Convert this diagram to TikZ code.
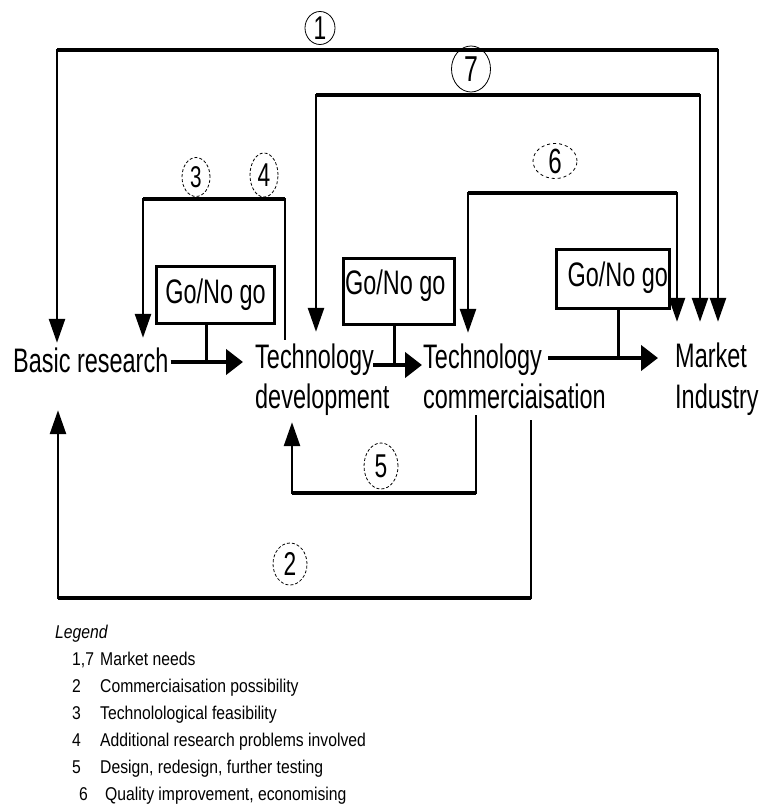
\documentclass[tikz,border=0pt]{standalone}
\usepackage{fontspec}
\setmainfont{Liberation Sans}[FakeStretch=0.69]
\newfontfamily\legfont{Liberation Sans}[FakeStretch=0.85]
\usetikzlibrary{shapes.geometric,arrows.meta,calc}
\begin{document}
\begin{tikzpicture}[x=1pt,y=-1pt,
  lbl/.style={inner sep=0pt, font=\fontsize{34}{40}\selectfont, text height=25pt, text depth=5pt, anchor=base west},
  gobox/.style={draw, line width=3pt, inner sep=0pt, font=\fontsize{34}{40}\selectfont, anchor=north west},
  num/.style={ellipse, draw, line width=0.8pt, inner sep=0pt, font=\fontsize{33}{33}\selectfont},
  stem/.style={line width=3pt},
  loopline/.style={line width=2.6pt},
  looparr/.style={line width=2.6pt, -{Triangle[length=24pt,width=16pt]}},
  loopboth/.style={line width=2.6pt, {Triangle[length=24pt,width=16pt]}-{Triangle[length=24pt,width=16pt]}},
  topline/.style={line width=4.5pt},
  mainarr/.style={line width=4.5pt, -{Triangle[length=17pt,width=25pt]}},
  leg/.style={inner sep=0pt, anchor=base west, font=\legfont\fontsize{18.5}{20}\selectfont},
]
\fill[white] (0,0) rectangle (762,805);
\useasboundingbox (0,0) rectangle (762,805);

% main stages
\node[lbl] (BR) at (13,372) {Basic research};
\node[lbl] (TD1) at (255,368) {Technology};
\node[lbl] (TD2) at (255,408) {development};
\node[lbl] (TC1) at (423,368) {Technology};
\node[lbl] (TC2) at (423,408) {commerciaisation};
\node[lbl] (MI1) at (675,367) {Market};
\node[lbl] (MI2) at (675,408) {Industry};

% go / no go boxes
\node[gobox, minimum width=118pt, minimum height=57pt, text height=25pt, text depth=8pt] (G1) at (155,265) {Go/No go};
\node[gobox, minimum width=111pt, minimum height=66pt, text height=25pt, text depth=20pt] (G2) at (342,257) {\makebox[108pt][l]{Go/No go}};
\node[gobox, minimum width=113pt, minimum height=59pt, text height=25pt, text depth=10pt] (G3) at (555,248) {\makebox[110pt][r]{Go/No go}};

% main flow arrows
\draw[mainarr] ($(BR.east)+(2,0)$) -- ($(BR.east -| TD1.west)+(-12,0)$);
\coordinate (a2s) at ($(TD1.east)+(-1,7)$);
\draw[mainarr] (a2s) -- ($(a2s -| TC1.west)+(-1,0)$);
\coordinate (a3s) at ($(TC1.east)+(6,0)$);
\draw[mainarr] (a3s) -- ($(a3s -| MI1.west)+(-17,0)$);

% stems from the boxes
\coordinate (j1) at ($(G1.south)+(-9,0)$);
\draw[stem] (j1) -- (j1 |- BR.east);
\coordinate (j2) at ($(G2.south)+(-4.5,0)$);
\draw[stem] (j2) -- (j2 |- a2s);
\coordinate (j3) at ($(G3.south)+(5.5,0)$);
\draw[stem] (j3) -- (j3 |- a3s);

% end points of feedback loops
\coordinate (t1) at ($(BR.north west)+(44,-4)$);
\coordinate (t3) at ($(BR.north west)+(130,-9)$);
\coordinate (e4) at ($(TD1.north west)+(30,-3)$);
\coordinate (t7) at ($(TD1.north west)+(61,-11)$);
\coordinate (t6) at ($(TC1.north west)+(45,-10)$);
\coordinate (m6) at ($(MI1.north west)+(2,-20)$);
\coordinate (m7) at ($(MI1.north west)+(25,-20)$);
\coordinate (m1) at ($(MI1.north west)+(43,-20)$);
\coordinate (s5) at ($(TC2.south west)+(53,2)$);
\coordinate (t5) at ($(TD2.south west)+(37,9)$);
\coordinate (s2) at ($(TC2.south west)+(108,7)$);
\coordinate (t2) at ($(BR.south west)+(45,33)$);

% loop 1
\draw[loopboth] (t1) |- (m1 |- 0,50) -- (m1);
\draw[topline] (t1 |- 0,50) -- (m1 |- 0,50);
% loop 7
\draw[loopboth] (t7) |- (m7 |- 0,95) -- (m7);
\draw[topline] (t7 |- 0,95) -- (m7 |- 0,95);
% loop 6
\draw[loopboth] (t6) |- (m6 |- 0,193) -- (m6);
\draw[topline] (t6 |- 0,193) -- (m6 |- 0,193);
% loop 3/4
\draw[looparr] (e4) |- (t3 |- 0,199) -- (t3);
\draw[topline] (e4 |- 0,199) -- (t3 |- 0,199);
% loop 5
\draw[looparr] (s5) -- (s5 |- 0,493) -| (t5);
\draw[topline] (s5 |- 0,493) -- (t5 |- 0,493);
% loop 2
\draw[looparr] (s2) -- (s2 |- 0,598) -| (t2);
\draw[topline] (s2 |- 0,598) -- (t2 |- 0,598);

% numbered labels
\node[num, minimum width=30pt, minimum height=33pt] (c1) at (320,28) {1};
\node[num, minimum width=39pt, minimum height=46pt, font=\fontsize{36}{36}\selectfont] (c7) at (471,69) {7};
\node[num, densely dashed, minimum width=28pt, minimum height=39pt, font=\fontsize{30}{30}\selectfont] (c3) at (196,177) {3};
\node[num, densely dashed, minimum width=28pt, minimum height=44pt] (c4) at (264,175) {4};
\node[num, dashed, minimum width=44pt, minimum height=34pt, font=\fontsize{35}{35}\selectfont] (c6) at (555,161) {6};
\node[num, densely dashed, minimum width=34pt, minimum height=46pt] (c5) at (381,466) {5};
\node[num, densely dashed, minimum width=34pt, minimum height=42pt] (c2) at (290,564) {2};

% legend
\node[leg, font=\legfont\itshape\fontsize{18.5}{20}\selectfont] (lg) at (55,638) {Legend};
\node[leg] (n1) at (72,665) {1,7};
\node[leg] (d1) at (100,665) {Market needs};
\node[leg] (n2) at (72,692) {2};
\node[leg] (d2) at (100,692) {Commerciaisation possibility};
\node[leg] (n3) at (72,719) {3};
\node[leg] (d3) at (100,719) {Technolological feasibility};
\node[leg] (n4) at (72,746) {4};
\node[leg] (d4) at (100,746) {Additional research problems involved};
\node[leg] (n5) at (72,773) {5};
\node[leg] (d5) at (100,773) {Design, redesign, further testing};
\node[leg] (n6) at (79,800) {6};
\node[leg] (d6) at (105,800) {Quality improvement, economising};
\end{tikzpicture}
\end{document}
